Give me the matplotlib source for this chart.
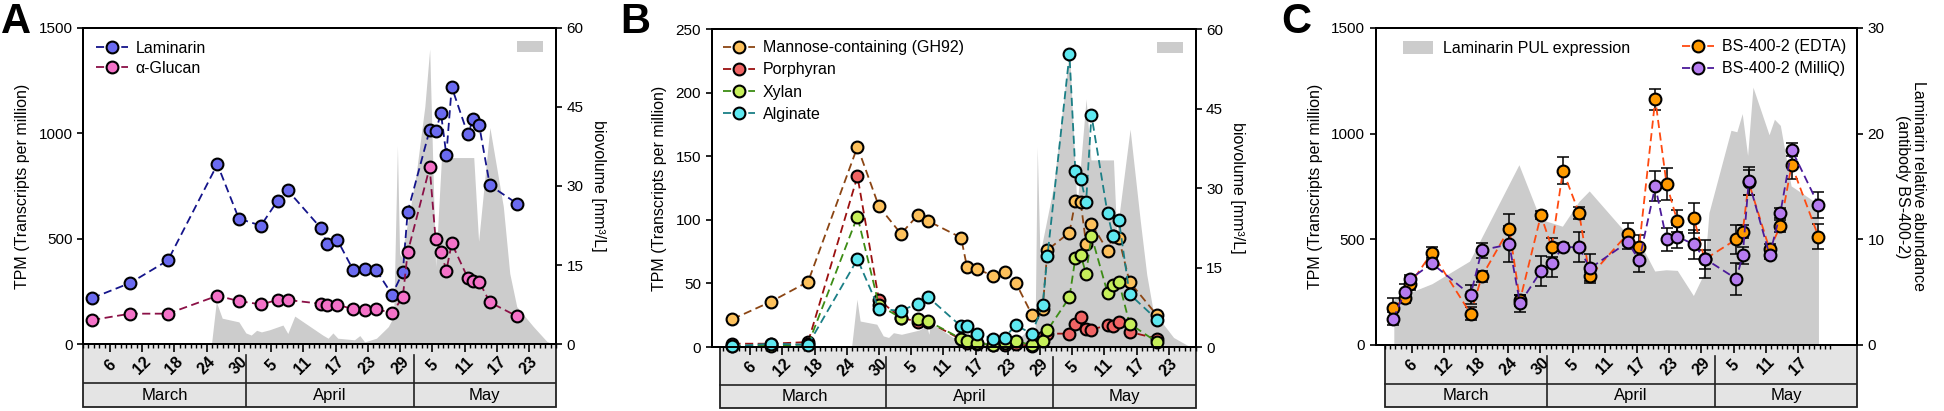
import matplotlib
matplotlib.use('Agg')
import matplotlib.pyplot as plt
from matplotlib.patches import Patch, Rectangle
from matplotlib.lines import Line2D

plt.rcParams['font.family'] = ['Liberation Sans', 'DejaVu Sans']
plt.rcParams['axes.linewidth'] = 1.4

# ---------------- data ----------------
# day index: 0 = 1 March
sample_days = [1.7, 8.8, 15.8, 25.0, 29.0, 33.1, 36.2, 38.1, 44.3, 45.4, 47.3, 50.3, 52.4,
               54.5, 57.5, 59.5, 60.4, 64.5, 65.6, 66.6, 67.6, 68.6, 71.6, 72.6, 73.7, 75.7, 80.8]

laminarin = [218, 290, 397, 853, 595, 562, 680, 729, 549, 475, 495, 350, 356, 353, 234, 340,
             626, 1016, 1009, 1095, 897, 1220, 995, 1068, 1039, 753, 666]
glucan = [114, 144, 144, 229, 204, 188, 209, 209, 191, 185, 187, 165, 161, 166, 147, 223,
          435, 838, 498, 437, 348, 478, 313, 297, 296, 198, 131]

bio_days_A = [23.9, 24.8, 25.9, 29.0, 30.3, 31.3, 32.3, 33.2, 34.7, 37.2, 38.1, 39.4, 44.6,
              45.6, 46.5, 47.4, 50.5, 51.5, 52.4, 54.6, 56.8, 57.8, 58.5, 58.9, 59.2, 60.8,
              62.0, 63.6, 64.5, 65.6, 66.7, 72.7, 73.6, 75.7, 78.2, 79.4, 80.7, 83.8, 86.3, 87.5]
bio_A = [0, 8.0, 4.9, 4.2, 2.1, 1.7, 2.6, 2.3, 2.7, 3.6, 2.0, 5.3, 1.7, 1.1, 2.1, 1.1, 0.8,
         1.6, 0.4, 1.1, 3.3, 5.2, 37.6, 17.2, 16.6, 25.2, 32.4, 45.1, 56.0, 14.7, 35.4, 35.4,
         19.5, 41.1, 26.1, 13.4, 7.1, 3.3, 0.5, 0.0]

mannose = [21.9, 35.5, 51.3, 157.4, 110.5, 89.0, 103.4, 99.2, 86.0, 63.2, 61.1, 56.1, 58.7,
           50.5, 25.5, 30.0, 76.3, 90.0, 114.5, 113.7, 81.1, 96.9, 75.8, 87.0, 85.6, 51.3, 25.0]
porphyran = [2.6, 2.6, 3.9, 134.2, 36.9, 23.0, 20.0, 20.0, 6.0, 3.5, 2.5, 1.5, 1.5, 2.0, 1.0,
             8.0, 10.5, 10.5, 18.4, 23.2, 14.5, 13.7, 17.1, 16.6, 19.3, 11.9, 6.6]
xylan = [1.0, 1.0, 2.0, 102.6, 32.9, 22.9, 21.9, 20.5, 6.6, 4.7, 3.4, 1.3, 2.9, 4.7, 1.5, 4.7,
         13.2, 39.0, 69.8, 72.4, 57.4, 87.4, 42.6, 48.7, 51.3, 18.4, 3.9]
alginate = [0.5, 2.6, 1.8, 69.0, 30.0, 28.4, 34.2, 39.5, 16.3, 16.3, 10.5, 6.6, 7.4, 17.1, 10.5,
            32.9, 71.6, 230.0, 138.2, 132.1, 113.7, 182.4, 105.0, 87.0, 100.0, 41.6, 21.6]

bio_days_B = [23.9, 24.9, 25.5, 28.6, 29.8, 30.8, 31.7, 33.2, 36.5, 37.9, 38.3, 38.6, 42.8,
              44.6, 45.6, 46.5, 47.4, 50.5, 51.5, 52.4, 54.6, 56.8, 58.1, 58.5, 59.0, 61.5,
              64.5, 65.9, 67.6, 68.5, 72.7, 73.3, 75.8, 77.7, 78.9, 80.1, 83.9, 86.7, 87.5]
bio_B = [0, 9.0, 4.9, 4.3, 2.1, 1.8, 2.7, 2.4, 3.2, 4.0, 2.4, 4.6, 1.8, 1.7, 1.1, 2.1, 1.1,
         0.8, 1.6, 0.4, 1.1, 3.3, 3.0, 37.7, 17.5, 30.1, 56.0, 26.3, 46.8, 35.3, 35.3, 21.3,
         41.1, 23.8, 13.7, 6.8, 1.8, 0.2, 0]

antibody_days = [1.6, 3.7, 4.8, 8.8, 16.0, 18.1, 23.2, 25.2, 29.1, 31.1, 33.2, 36.2, 38.2,
                 45.3, 47.4, 50.4, 52.5, 54.5, 57.6, 59.6, 65.5, 66.7, 67.8, 71.7, 73.7, 75.8, 80.8]
edta = [3.5, 4.44, 5.8, 8.74, 2.96, 6.5, 11.02, 4.22, 12.28, 9.26, 16.5, 12.5, 6.5, 10.54,
        9.3, 23.26, 15.26, 11.74, 12.0, 8.1, 10.0, 10.74, 15.4, 9.04, 11.26, 17.04, 10.26]
edta_err = [0.9, 0.5, 0.6, 0.5, 0.6, 0.5, 1.4, 0.5, 0.4, 0.9, 1.3, 0.6, 0.4, 1.0, 1.1, 1.0,
            1.5, 1.0, 1.4, 0.9, 1.4, 0.6, 1.2, 0.5, 0.6, 1.3, 1.2]
milliq = [2.48, 4.98, 6.26, 7.72, 4.74, 8.98, 9.52, 3.96, 6.98, 7.78, 9.26, 9.26, 7.24, 9.74,
          8.0, 15.02, 10.0, 10.26, 9.52, 8.18, 6.26, 8.5, 15.5, 8.5, 12.48, 18.5, 13.26]
milliq_err = [0.6, 0.8, 0.4, 0.3, 0.9, 0.7, 1.7, 0.8, 1.4, 1.3, 0.4, 1.4, 1.4, 0.7, 1.1, 1.4,
              1.1, 1.1, 1.4, 1.8, 1.5, 0.8, 1.3, 0.4, 0.5, 0.6, 1.2]

tick_days = [5, 11, 17, 23, 29, 35, 41, 47, 53, 59, 65, 71, 77, 83]
tick_labels = ['6', '12', '18', '24', '30', '5', '11', '17', '23', '29', '5', '11', '17', '23']
month_names = ['March', 'April', 'May']
month_bounds = [0, 30.3, 61.5, 88]

# ---------------- style ----------------
GRAY = '#cccccc'
BOXC = '#e4e4e4'
EDGE = '#222222'
LW = 1.3
DASH = (4.5, 2.5)
MS = 8.5
MEW = 1.5
TICK_FS = 11
LAB_FS = 11.5

fig = plt.figure(figsize=(19.44, 4.11), dpi=100)


def date_box(rect, xlim, box_start, n_ticks):
    axb = fig.add_axes(rect, zorder=0)
    axb.set_xlim(*xlim)
    axb.set_ylim(0, 1)
    axb.axis('off')
    axb.add_patch(Rectangle((box_start, 0), xlim[1] - box_start, 1, facecolor=BOXC,
                            edgecolor=EDGE, lw=1.3, clip_on=False))
    axb.plot([box_start, xlim[1]], [0.375, 0.375], color=EDGE, lw=1.2)
    for b in month_bounds[1:-1]:
        axb.plot([b, b], [0, 0.83], color=EDGE, lw=1.2)
    for d, t in zip(tick_days[:n_ticks], tick_labels[:n_ticks]):
        axb.text(d, 0.66, t, rotation=45, ha='center', va='center', fontsize=11.5,
                 fontweight='bold')
    for i, m in enumerate(month_names):
        lo = max(month_bounds[i], box_start)
        hi = month_bounds[i + 1]
        axb.text((lo + hi) / 2, 0.19, m, ha='center', va='center', fontsize=12)
    return axb


def setup_x(ax, xlim, n_ticks, minor_end):
    ax.set_xlim(*xlim)
    ax.set_xticks(tick_days[:n_ticks])
    ax.set_xticks(list(range(0, minor_end + 1)), minor=True)
    ax.tick_params(axis='x', which='major', length=6, width=1.2, direction='out',
                   labelbottom=False)
    ax.tick_params(axis='x', which='minor', length=3, width=1.0, direction='out')


def setup_y(ax, ax2):
    ax.tick_params(axis='y', length=4, width=1.2, labelsize=TICK_FS)
    ax2.tick_params(axis='y', length=4, width=1.2, labelsize=TICK_FS)


def series(ax, x, y, face, line, label):
    ax.plot(x, y, ls='--', dashes=DASH, color=line, lw=LW, marker='o', ms=MS, mfc=face,
            mec='black', mew=MEW, label=label, clip_on=False)


# ================= Panel A =================
xlimA = (0, 88)
axA = fig.add_axes([0.0427, 0.1630, 0.2433, 0.7689])
axA2 = axA.twinx()
axA.set_zorder(3)
axA2.set_zorder(2)
axA.patch.set_visible(False)
axA2.fill_between(bio_days_A, bio_A, 0, color=GRAY, lw=0)
axA2.set_ylim(0, 60)
axA2.set_yticks([0, 15, 30, 45, 60])
axA2.set_ylabel('biovolume [mm³/L]', fontsize=LAB_FS, rotation=270, labelpad=16)
series(axA, sample_days, laminarin, '#6b6bf0', '#14148a', 'Laminarin')
series(axA, sample_days, glucan, '#f472c8', '#8b1046', 'α-Glucan')
axA.set_ylim(0, 1500)
axA.set_yticks([0, 500, 1000, 1500])
axA.set_ylabel('TPM (Transcripts per million)', fontsize=LAB_FS, labelpad=6)
setup_x(axA, xlimA, 14, 88)
setup_y(axA, axA2)
axA.legend(loc='upper left', frameon=False, fontsize=LAB_FS, handlelength=2.0,
           handletextpad=0.5, labelspacing=0.3, borderaxespad=0.4)
axA2.legend(handles=[Patch(facecolor=GRAY, edgecolor='none')], labels=[''],
            loc='upper right', frameon=False, handlelength=1.9, handleheight=0.9,
            handletextpad=0.0, borderaxespad=0.5)
date_box([0.0427, 0.0097, 0.2433, 0.1533], xlimA, 0, 14)

# ================= Panel B =================
xlimB = (-2.2, 88)
axB = fig.add_axes([0.3660, 0.1557, 0.2490, 0.7737])
axB2 = axB.twinx()
axB.set_zorder(3)
axB2.set_zorder(2)
axB.patch.set_visible(False)
axB2.fill_between(bio_days_B, bio_B, 0, color=GRAY, lw=0)
axB2.set_ylim(0, 60)
axB2.set_yticks([0, 15, 30, 45, 60])
axB2.set_ylabel('biovolume [mm³/L]', fontsize=LAB_FS, rotation=270, labelpad=16)
series(axB, sample_days, mannose, '#fdc15c', '#8b4513', 'Mannose-containing (GH92)')
series(axB, sample_days, porphyran, '#f06464', '#9b1010', 'Porphyran')
series(axB, sample_days, xylan, '#c6ef5a', '#3c8c14', 'Xylan')
series(axB, sample_days, alginate, '#5ee8f0', '#1a7f86', 'Alginate')
axB.set_ylim(0, 250)
axB.set_yticks([0, 50, 100, 150, 200, 250])
axB.set_ylabel('TPM (Transcripts per million)', fontsize=LAB_FS, labelpad=6)
setup_x(axB, xlimB, 14, 88)
setup_y(axB, axB2)
axB.legend(loc='upper left', frameon=False, fontsize=LAB_FS, handlelength=2.0,
           handletextpad=0.5, labelspacing=0.45, borderaxespad=0.3)
axB2.legend(handles=[Patch(facecolor=GRAY, edgecolor='none')], labels=[''],
            loc='upper right', frameon=False, handlelength=1.9, handleheight=0.9,
            handletextpad=0.0, borderaxespad=0.5)
date_box([0.3660, 0.0085, 0.2490, 0.1472], xlimB, -0.6, 14)

# ================= Panel C =================
xlimC = (-1.7, 88)
axC = fig.add_axes([0.7076, 0.1606, 0.2477, 0.7713])
axC2 = axC.twinx()
axC.set_zorder(2)
axC2.set_zorder(3)
axC.fill_between(sample_days, laminarin, 0, color=GRAY, lw=0)
axC.set_ylim(0, 1500)
axC.set_yticks([0, 500, 1000, 1500])
axC.set_ylabel('TPM (Transcripts per million)', fontsize=LAB_FS, labelpad=6)
for y, err, face, line in [(edta, edta_err, '#ff9a00', '#ff4a10'),
                           (milliq, milliq_err, '#b67cf0', '#4b1a9a')]:
    axC2.errorbar(antibody_days, y, yerr=err, ecolor='black', elinewidth=1.1, capsize=4,
                  capthick=1.1, ls='none', zorder=2)
    axC2.plot(antibody_days, y, ls='--', dashes=DASH, color=line, lw=LW, marker='o', ms=MS,
              mfc=face, mec='black', mew=MEW, zorder=3)
axC2.set_ylim(0, 30)
axC2.set_yticks([0, 10, 20, 30])
axC2.set_ylabel('Laminarin relative abundance\n(antibody BS-400-2)', fontsize=LAB_FS,
                rotation=270, labelpad=30, linespacing=1.1)
setup_x(axC, xlimC, 13, 83)
setup_y(axC, axC2)
axC.legend(handles=[Patch(facecolor=GRAY, edgecolor='none')],
           labels=['Laminarin PUL expression'], loc='upper left', frameon=False,
           fontsize=LAB_FS, handlelength=1.9, handleheight=0.9, handletextpad=0.6,
           borderaxespad=0.4, bbox_to_anchor=(0.03, 1.0))
hC = [Line2D([], [], ls='--', dashes=DASH, color='#ff4a10', lw=LW, marker='o', ms=MS,
             mfc='#ff9a00', mec='black', mew=MEW),
      Line2D([], [], ls='--', dashes=DASH, color='#4b1a9a', lw=LW, marker='o', ms=MS,
             mfc='#b67cf0', mec='black', mew=MEW)]
axC2.legend(handles=hC, labels=['BS-400-2 (EDTA)', 'BS-400-2 (MilliQ)'], loc='upper right',
            frameon=False, fontsize=LAB_FS, handlelength=2.0, handletextpad=0.5,
            labelspacing=0.45, borderaxespad=0.3)
date_box([0.7076, 0.0097, 0.2477, 0.1509], xlimC, 0, 13)

# panel letters
for x, t in [(0.0005, 'A'), (0.319, 'B'), (0.659, 'C')]:
    fig.text(x, 0.995, t, fontsize=30, fontweight='bold', va='top', ha='left')

fig.savefig('out.png', dpi=100)
